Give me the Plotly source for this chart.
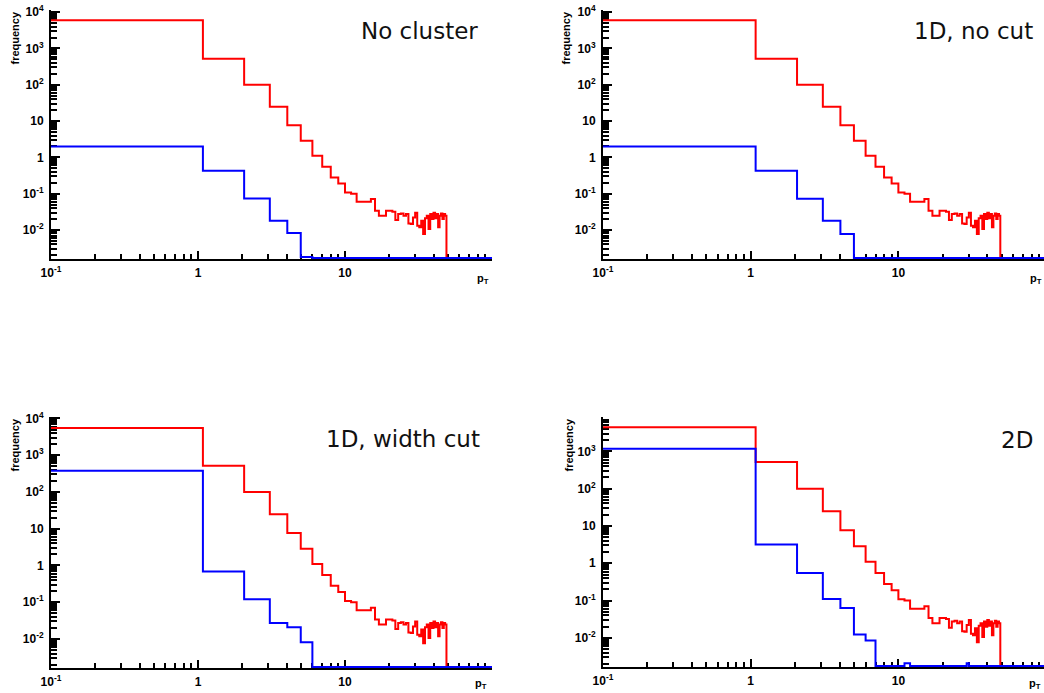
import plotly.graph_objects as go

# ---------------- data ----------------
bin_edges = [0.1, 1.08, 2.06, 3.08, 4.05] + list(range(5, 50))  # 49 bins

red_counts = [6000, 520, 100, 24.8, 7.7, 2.86, 1.1, 0.55, 0.28, 0.19,
              0.108, 0.100, 0.060, 0.060, 0.060, 0.071, 0.034, 0.0246, 0.0246, 0.034,
              0.034, 0.032, 0.0187, 0.0274, 0.0286, 0.0246, 0.0274, 0.015, 0.0145, 0.022,
              0.030, 0.013, 0.0118, 0.018, 0.0077, 0.021, 0.0246, 0.0106, 0.0274, 0.020,
              0.030, 0.021, 0.0274, 0.0118, 0.0246, 0.0286, 0.020, 0.0274, 0.0246]

red_first_bin = {"No cluster": 6000, "1D, no cut": 6000, "1D, width cut": 5500, "2D": 4400}

blue_no_cluster = [2.0, 0.43, 0.074, 0.018, 0.0082, 0.0018]
blue_1d_nocut = [2.0, 0.43, 0.072, 0.018, 0.0078, 0.0017]
blue_1d_widthcut = [380, 0.68, 0.12, 0.027, 0.021, 0.0081]
blue_2d = [1180, 3.2, 0.55, 0.11, 0.063, 0.0123, 0.0085, 0, 0, 0, 0, 0.0021,
           0, 0, 0, 0, 0, 0, 0, 0, 0, 0, 0, 0, 0, 0, 0, 0, 0, 0.0021]

titles = ["No cluster", "1D, no cut", "1D, width cut", "2D"]
blue_series = [blue_no_cluster, blue_1d_nocut, blue_1d_widthcut, blue_2d]

x_tickvals = [0.1, 1, 10]
x_ticktext = ["10<sup>-1</sup>", "1", "10"]
y_tickvals = [1e-2, 1e-1, 1, 10, 1e2, 1e3, 1e4]
y_ticktext = ["10<sup>-2</sup>", "10<sup>-1</sup>", "1", "10", "10<sup>2</sup>", "10<sup>3</sup>", "10<sup>4</sup>"]

# ---------------- layout (pixels) ----------------
W, H = 1044, 693
def fx(px):
    return px / W
def fy(py):
    return 1 - py / H

panels = [
    dict(xpx=(51, 492), ypx=(10, 259), xr=(-1, 2.0), yr=(-2.8, 4.06),
         title_xy=(480, 31), freq_x=14, ptx=(483, 279)),
    dict(xpx=(603, 1044), ypx=(10, 259), xr=(-1, 1.986), yr=(-2.8, 4.06),
         title_xy=(1035, 31), freq_x=565, ptx=(1036, 279)),
    dict(xpx=(51, 492), ypx=(417, 668), xr=(-1, 2.0), yr=(-2.79, 4.04),
         title_xy=(482, 439), freq_x=14, ptx=(481, 684)),
    dict(xpx=(603, 1044), ypx=(417, 667), xr=(-1, 1.986), yr=(-2.78, 3.92),
         title_xy=(1035, 440), freq_x=568, ptx=(1035, 684)),
]

x_minor = [m * 10 ** d for d in (-1, 0, 1) for m in range(2, 10)]
y_minor = [m * 10 ** d for d in range(-3, 4) for m in range(2, 10)]

fig = go.Figure()
tickfont = dict(family="Liberation Sans, Arial", size=12, color="black", weight="bold")

def step_xy(edges, vals, floor, xmax):
    v = [val if val > 0 else floor for val in vals]
    v = v + [floor] * (len(edges) - 1 - len(v))
    return list(edges) + [xmax], v + [floor, floor]

annotations = []
for i, (title, blue, p) in enumerate(zip(titles, blue_series, panels)):
    n = i + 1
    xa = "x" if n == 1 else f"x{n}"
    ya = "y" if n == 1 else f"y{n}"
    floor = 10 ** (p["yr"][0] + 0.03)
    xmax = 10 ** p["xr"][1]
    red = [red_first_bin[title]] + red_counts[1:]
    rx, ry = step_xy(bin_edges, red, floor, xmax)
    bx, by = step_xy(bin_edges, blue, floor, xmax)
    fig.add_trace(go.Scatter(x=rx, y=ry, mode="lines", line=dict(color="#ff0000", width=2, shape="hv"),
                             xaxis=xa, yaxis=ya, hoverinfo="skip"))
    fig.add_trace(go.Scatter(x=bx, y=by, mode="lines", line=dict(color="#0000ff", width=2, shape="hv"),
                             xaxis=xa, yaxis=ya, hoverinfo="skip"))
    axcommon = dict(type="log", showline=True, linecolor="black", linewidth=2, mirror=False,
                    ticks="inside", tickcolor="black", tickwidth=2, showgrid=False, zeroline=False,
                    tickfont=tickfont, layer="below traces", automargin=False)
    fig.layout[("xaxis" if n == 1 else f"xaxis{n}")] = dict(
        axcommon, range=list(p["xr"]), domain=[fx(p["xpx"][0]), fx(p["xpx"][1])], anchor=ya,
        tickvals=x_tickvals, ticktext=x_ticktext, ticklen=8, ticklabelstandoff=2,
        minor=dict(ticks="inside", ticklen=5, tickwidth=1.5, tickcolor="black", tickvals=x_minor))
    fig.layout[("yaxis" if n == 1 else f"yaxis{n}")] = dict(
        axcommon, range=list(p["yr"]), domain=[fy(p["ypx"][1]), fy(p["ypx"][0])], anchor=xa,
        tickvals=y_tickvals, ticktext=y_ticktext, ticklen=9, ticklabelstandoff=3,
        minor=dict(ticks="inside", ticklen=6, tickwidth=1.5, tickcolor="black", tickvals=y_minor))
    annotations.append(dict(text=title, x=fx(p["title_xy"][0]), y=fy(p["title_xy"][1]),
                            xref="paper", yref="paper", xanchor="right", yanchor="middle", showarrow=False,
                            font=dict(family="DejaVu Sans", size=23, color="#111111")))
    annotations.append(dict(text="<b>frequency</b>", x=fx(p["freq_x"]), y=fy(p["ypx"][0]),
                            xref="paper", yref="paper", xanchor="center", yanchor="top", textangle=-90,
                            showarrow=False, font=dict(family="Liberation Sans, Arial", size=11, color="black")))
    annotations.append(dict(text="<b>p<sub>T</sub></b>", x=fx(p["ptx"][0]), y=fy(p["ptx"][1]),
                            xref="paper", yref="paper", xanchor="center", yanchor="middle",
                            showarrow=False, font=dict(family="Liberation Sans, Arial", size=11, color="black")))

fig.update_layout(template="none", width=W, height=H, margin=dict(l=0, r=0, t=0, b=0, pad=0),
                  plot_bgcolor="white", paper_bgcolor="white", showlegend=False,
                  annotations=annotations, hovermode=False)

fig.write_html("out.html", config={"displayModeBar": False},
               post_script="document.body.style.margin='0';document.body.style.overflow='hidden';")
